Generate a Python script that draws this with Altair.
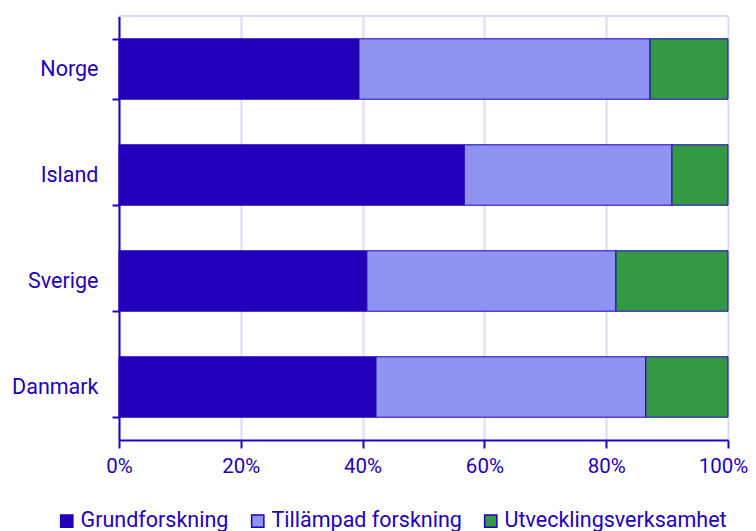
import altair as alt
import pandas as pd

countries = ["Norge", "Island", "Sverige", "Danmark"]
categories = ["Grundforskning", "Tillämpad forskning", "Utvecklingsverksamhet"]
grund = [39.4, 56.7, 40.7, 42.2]
tillampad = [47.8, 34.1, 40.9, 44.3]
utveckling = [12.8, 9.2, 18.4, 13.5]
colors = ["#2200BB", "#8F94F2", "#339944"]

rows = []
for i, c in enumerate(countries):
    for j, (cat, vals) in enumerate(zip(categories, [grund, tillampad, utveckling])):
        rows.append({"land": c, "typ": cat, "andel": vals[i], "ord": j})
df = pd.DataFrame(rows)

TXT = "#2200BB"
FONT = "Roboto"
FS = 21.5
W, H = 609, 424

bars = alt.Chart(df).mark_bar(stroke="#2200BB", strokeWidth=1).encode(
    y=alt.Y("land:N", sort=countries, title=None,
            scale=alt.Scale(paddingInner=0.43, paddingOuter=0.215),
            axis=alt.Axis(tickBand="extent", grid=False, domainColor=TXT, domainWidth=2,
                          tickColor=TXT, tickWidth=2, tickSize=7, labelColor=TXT,
                          labelFont=FONT, labelFontSize=FS, labelPadding=14)),
    x=alt.X("andel:Q", stack="normalize", title=None,
            scale=alt.Scale(domain=[0, 1]),
            axis=alt.Axis(format="%", values=[0, 0.2, 0.4, 0.6, 0.8, 1.0],
                          labelOffset=alt.expr("datum.value == 1 ? -5 : 0"),
                          grid=True, gridColor="#DCDCF4", gridWidth=2, labelFlush=False,
                          domainColor=TXT, domainWidth=2, tickColor=TXT, tickWidth=2,
                          tickSize=8, labelColor=TXT, labelFont=FONT, labelFontSize=20.5,
                          labelPadding=8)),
    color=alt.Color("typ:N", sort=categories,
                    scale=alt.Scale(domain=categories, range=colors),
                    legend=alt.Legend(title=None, orient="none", direction="horizontal",
                                      legendX=-63, legendY=494, symbolType="square",
                                      symbolSize=150, symbolStrokeColor=TXT,
                                      symbolStrokeWidth=1.5, labelColor=TXT,
                                      labelFont=FONT, labelFontSize=FS, labelOffset=3,
                                      columnPadding=18, labelLimit=400)),
    order=alt.Order("ord:Q"),
)

top = alt.Chart(df).mark_rule(color="#DCDCF4", strokeWidth=2).encode(
    y=alt.value(0), x=alt.value(0), x2=alt.value(W)
)

chart = alt.layer(top, bars).properties(
    width=W, height=H,
    autosize=alt.AutoSizeParams(type="none"),
    padding={"left": 111, "top": 8, "right": 20, "bottom": 100},
).configure_view(stroke=None)

chart.save("out.html", embed_options={"renderer": "svg", "actions": False})
